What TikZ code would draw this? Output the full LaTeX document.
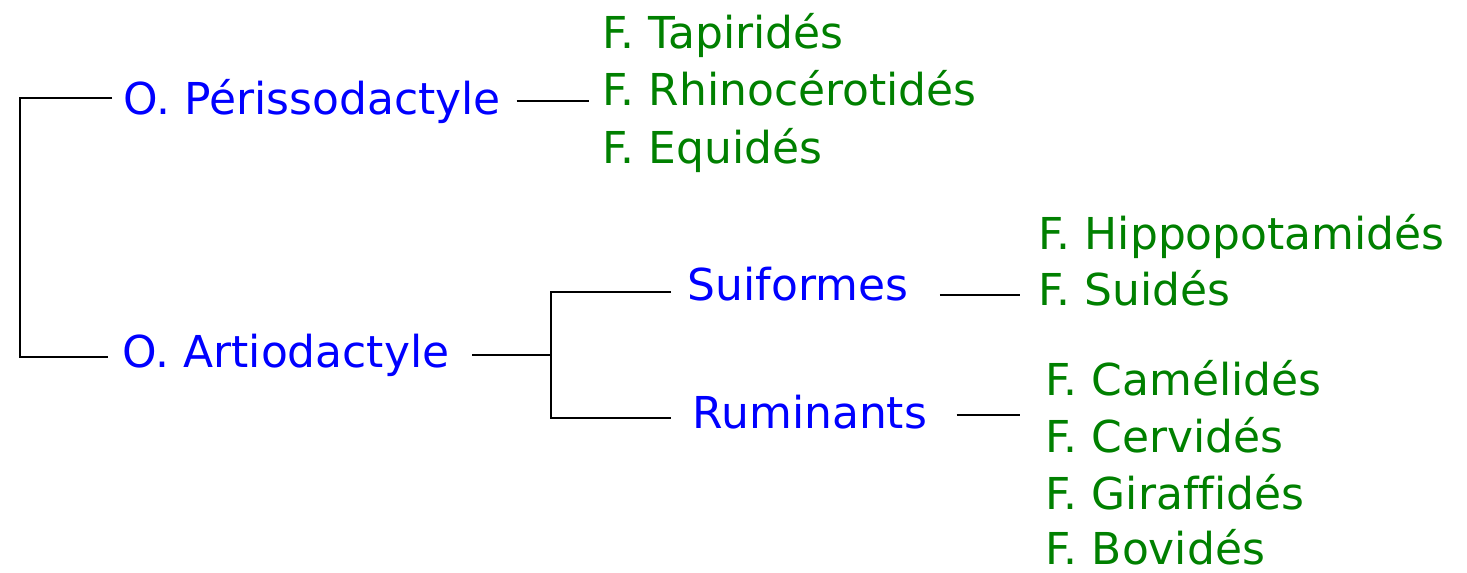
\documentclass[tikz,border=0pt]{standalone}
\usepackage{fontspec}
\setmainfont[Ligatures=NoCommon]{DejaVu Sans}
\usepackage{tikz}
\definecolor{ordblue}{RGB}{0,0,255}
\definecolor{famgreen}{RGB}{0,128,0}

\begin{document}
\begin{tikzpicture}[
        x=0.01cm, y=-0.01cm,
        every node/.style={inner sep=0pt, anchor=base west, font=\fontsize{12.5}{15}\selectfont},
        order/.style={text=ordblue},
        family/.style={text=famgreen},
        link/.style={draw=black, line width=0.8pt}
    ]
        \useasboundingbox (0,0) rectangle (1467,573);

        % Orders
        \node[order] (peri) at (123,115) {O. Périssodactyle};
        \node[order] (artio) at (122,367) {O. Artiodactyle};
        \node[order] (suif) at (687,300) {Suiformes};
        \node[order] (rumi) at (692,428) {Ruminants};

        % Families
        \node[family] (tapi) at (602,49) {F. Tapiridés};
        \node[family] (rhino) at (602,106) {F. Rhinocérotidés};
        \node[family] (equi) at (602,163) {F. Equidés};
        \node[family] (hippo) at (1038,249) {F. Hippopotamidés};
        \node[family] (suid) at (1038,305) {F. Suidés};
        \node[family] (came) at (1045,395) {F. Camélidés};
        \node[family] (cerv) at (1045,452) {F. Cervidés};
        \node[family] (gira) at (1045,509) {F. Giraffidés};
        \node[family] (bovi) at (1045,564) {F. Bovidés};

        % Brackets
        \coordinate (root) at (20,230);
        \coordinate (split) at (551,355);
        \draw[link] ([shift={(-11,-17)}]peri.base west) -| (root) |- ([shift={(-14,-10)}]artio.base west);
        \draw[link] ([shift={(22,-12)}]artio.base east) -- (split);
        \draw[link] ([shift={(-16,-8)}]suif.base west) -| (split) |- ([shift={(-21,-10)}]rumi.base west);

        % Links to families
        \draw[link] ([shift={(15,-14)}]peri.base east) -- ([shift={(-13,-5)}]rhino.base west);
        \draw[link] ([shift={(31,-5)}]suif.base east) -- ([shift={(-18,-10)}]suid.base west);
        \draw[link] ([shift={(29,-13)}]rumi.base east) -- ([shift={(-25,-37)}]cerv.base west);
    \end{tikzpicture}
\end{document}
